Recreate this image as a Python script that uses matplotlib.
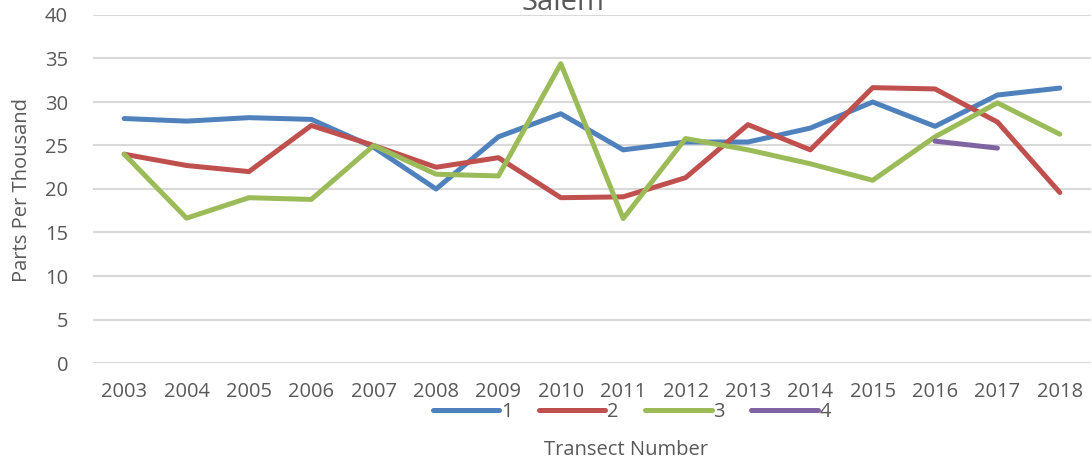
import matplotlib
matplotlib.use("Agg")
import matplotlib.pyplot as plt
import numpy as np

years = ["2003", "2004", "2005", "2006", "2007", "2008", "2009", "2010",
         "2011", "2012", "2013", "2014", "2015", "2016", "2017", "2018"]
t1 = [28.1, 27.8, 28.2, 28.0, 24.8, 20.0, 26.0, 28.65, 24.5, 25.4, 25.4, 27.0, 30.0, 27.2, 30.8, 31.6]
t2 = [24.0, 22.7, 22.0, 27.3, 25.0, 22.5, 23.6, 19.0, 19.1, 21.3, 27.4, 24.5, 31.65, 31.5, 27.7, 19.6]
t3 = [24.0, 16.65, 19.0, 18.8, 25.0, 21.7, 21.5, 34.4, 16.6, 25.8, 24.5, 22.9, 21.0, 26.0, 29.9, 26.3]
t4_years = ["2016", "2017"]
t4 = [25.5, 24.7]
series_names = ["1", "2", "3", "4"]
colors = ["#4F81BD", "#C0504D", "#9BBB59", "#8064A2"]

plt.rcParams['font.family'] = ['Open Sans', 'DejaVu Sans']
txt = "#595959"

fig = plt.figure(figsize=(10.92, 4.65), dpi=100)
ax = fig.add_axes([93/1092, 1-363/465, 998/1092, 348/465])

x = np.arange(len(years))
x4 = np.array([years.index(y) for y in t4_years])
lw = 3.6
for vals, xs, c, n in [(t1, x, colors[0], series_names[0]), (t2, x, colors[1], series_names[1]),
                       (t3, x, colors[2], series_names[2]), (t4, x4, colors[3], series_names[3])]:
    ax.plot(xs, vals, color=c, lw=lw, label=n, solid_capstyle='round', solid_joinstyle='round')

ax.set_xlim(-0.5, len(years)-0.5)
ax.set_ylim(0, 40)
ax.set_yticks(range(0, 41, 5))
ax.set_xticks(x)
ax.set_xticklabels(years)
ax.grid(axis='y', color='#D9D9D9', lw=1.5)
ax.set_axisbelow(True)
for s in ax.spines.values():
    s.set_visible(False)
ax.tick_params(axis='both', length=0, labelsize=14.5, labelcolor=txt)
ax.tick_params(axis='y', pad=18)
ax.tick_params(axis='x', pad=14)

fig.text(22/1092, 1-190/465, "Parts Per Thousand", rotation=90, ha='center', va='center',
         fontsize=14.5, color=txt)
fig.text(626/1092, 1-450/465, "Transect Number", ha='center', va='center', fontsize=14.5, color=txt)
fig.text(563/1092, 1-10/465, "Salem", ha='center', va='baseline', fontsize=21, color=txt)

leg = fig.legend(loc='center', bbox_to_anchor=(632/1092, 1-412/465), ncol=4, frameon=False,
                 fontsize=14.5, handlelength=3.3, handletextpad=0.1, columnspacing=1.3,
                 labelcolor=txt, borderaxespad=0, borderpad=0)

fig.savefig("out.png", dpi=100)
